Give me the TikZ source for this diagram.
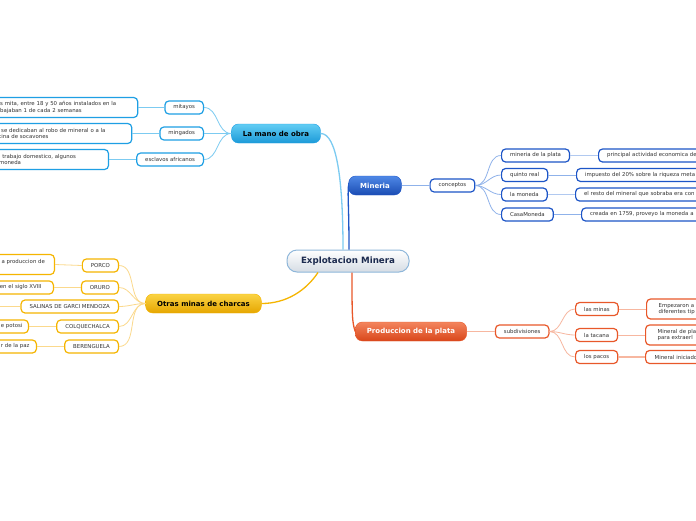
\documentclass[tikz,border=0pt]{standalone}
\usepackage{fontspec}
\setmainfont{DejaVu Sans}
\usetikzlibrary{positioning}

\definecolor{rootline}{HTML}{8FB7DA}
\definecolor{rootbot}{HTML}{D5DCE4}
\definecolor{rootfg}{HTML}{1B2A4E}
\definecolor{leaffg}{HTML}{333333}
\definecolor{manotop}{HTML}{62CDF4}
\definecolor{manobot}{HTML}{1C9AD8}
\definecolor{manobrd}{HTML}{1E9FE4}
\definecolor{manoln}{HTML}{7CCBF1}
\definecolor{minetop}{HTML}{4F88E6}
\definecolor{minebot}{HTML}{1A4CB3}
\definecolor{minebrd}{HTML}{1D55C7}
\definecolor{mineln}{HTML}{8FB2EA}
\definecolor{otrtop}{HTML}{FAD344}
\definecolor{otrbot}{HTML}{E6A600}
\definecolor{otrbrd}{HTML}{F5B500}
\definecolor{otrln}{HTML}{FBD98C}
\definecolor{protop}{HTML}{F3855E}
\definecolor{probot}{HTML}{D9461A}
\definecolor{probrd}{HTML}{E8582A}
\definecolor{proln}{HTML}{F7B7A0}

\begin{document}
\begin{tikzpicture}[x=1pt, y=1pt,
    root/.style={draw=rootline, line width=1pt, rounded corners=10pt, top color=white,
      bottom color=rootbot, text=rootfg, font=\bfseries\fontsize{8.7}{10}\selectfont,
      minimum width=122pt, minimum height=22pt},
    topic/.style={rounded corners=7pt, minimum height=19pt, inner xsep=11.5pt,
      font=\bfseries\fontsize{7}{8}\selectfont},
    mano/.style={topic, draw=manobrd, top color=manotop, bottom color=manobot, text=black},
    mine/.style={topic, draw=minebrd, top color=minetop, bottom color=minebot, text=white},
    otras/.style={topic, draw=otrbrd, top color=otrtop, bottom color=otrbot, text=black},
    prod/.style={topic, draw=probrd, top color=protop, bottom color=probot, text=white},
    leaf/.style={draw=#1, fill=white, line width=1.2pt, rounded corners=4pt,
      minimum height=13pt, inner xsep=8.5pt, inner ysep=1pt, text=leaffg,
      font=\fontsize{5.4}{6.8}\selectfont},
    note/.style={leaf=#1, align=left, minimum height=20pt},
    cut/.style={text width=#1, align=left},
    branch/.style={draw=#1, line width=1.3pt},
    fan/.style={draw=#1, line width=0.8pt},
    tie/.style={draw=#1, line width=1.4pt}
  ]
    \useasboundingbox (0,-520) rectangle (696,0);
    \fill[white] (0,-520) rectangle (696,0);
    \clip (0,-520) rectangle (696,0);

    % central topic and main branches
    \node[root] (expl) at (348,-261) {Explotacion Minera};
    \node[mano] (obra) at (276,-133.5) {La mano de obra};
    \node[mine] (mineria) at (375,-185.5) {Mineria};
    \node[otras] (charcas) at (203.5,-303.5) {Otras minas de charcas};
    \node[prod] (plata) at (411,-331.5) {Produccion de la plata};

    \draw[branch=manoln] ([xshift=-5pt]expl.north) .. controls +(0,70) and +(16,0) .. (obra.east);
    \draw[branch=minebrd] ([xshift=1pt]expl.north) .. controls +(0,45) and +(-1,-12) .. (mineria.west);
    \draw[branch=otrbrd] ([xshift=-30pt]expl.south) .. controls +(-12,-18) and +(25,0) .. (charcas.east);
    \draw[branch=probrd] ([xshift=4pt]expl.south) .. controls +(0,-45) and +(-3,10) .. (plata.west);

    % La mano de obra
    \node[leaf=manobrd, anchor=east] (mitayos) at (204,-107.5) {mitayos};
    \node[leaf=manobrd, anchor=east] (mingados) at (204,-133.5) {mingados};
    \node[leaf=manobrd, anchor=east] (esclavos) at (204,-159.5) {esclavos africanos};
    \node[note=manobrd, cut=129pt, left=26pt of mitayos] (mitanote) {s mita, entre 18 y 50 años instalados en la\\bajaban 1 de cada 2 semanas};
    \node[note=manobrd, cut=124pt, left=27pt of mingados] (mingnote) {\hspace{2pt}se dedicaban al robo de mineral o a la\\tina de socavones};
    \node[note=manobrd, cut=101pt, left=27pt of esclavos] (esclnote) {l trabajo domestico, algunos\\moneda};

    \draw[fan=manoln] (obra.west) to[out=180, in=0] (mitayos.east);
    \draw[fan=manoln] (obra.west) to[out=180, in=0] (mingados.east);
    \draw[fan=manoln] (obra.west) to[out=180, in=0] (esclavos.east);
    \draw[fan=manoln] (mitayos.west) -- (mitanote.east);
    \draw[fan=manoln] (mingados.west) -- (mingnote.east);
    \draw[fan=manoln] (esclavos.west) -- (esclnote.east);

    % Mineria
    \node[leaf=minebrd, right=28pt of mineria] (conceptos) {conceptos};
    \node[leaf=minebrd, anchor=west] (minplata) at (501,-155.5) {mineria de la plata};
    \node[leaf=minebrd, anchor=west] (quinto) at (501,-175) {quinto real};
    \node[leaf=minebrd, anchor=west] (moneda) at (501,-194.5) {la moneda};
    \node[leaf=minebrd, anchor=west] (casa) at (501,-214.5) {CasaMoneda};
    \node[leaf=minebrd, cut=140pt, anchor=west] (minnote) at (598,-155.5) {principal actividad economica de};
    \node[leaf=minebrd, cut=140pt, anchor=west] (quinnote) at (576,-175) {impuesto del 20\% sobre la riqueza meta};
    \node[leaf=minebrd, cut=140pt, anchor=west] (monnote) at (575,-194.5) {el resto del mineral que sobraba era con};
    \node[leaf=minebrd, cut=140pt, anchor=west] (casanote) at (581,-214.5) {creada en 1759, proveyo la moneda a};

    \draw[fan=mineln] (mineria.east) -- (conceptos.west);
    \draw[fan=mineln] (conceptos.east) to[out=0, in=180] (minplata.west);
    \draw[fan=mineln] (conceptos.east) to[out=0, in=180] (quinto.west);
    \draw[fan=mineln] (conceptos.east) to[out=0, in=180] (moneda.west);
    \draw[fan=mineln] (conceptos.east) to[out=0, in=180] (casa.west);
    \draw[tie=mineln!70] (minplata.east) -- (minnote.west);
    \draw[fan=mineln] (quinto.east) -- (quinnote.west);
    \draw[tie=mineln!70] (moneda.east) -- (monnote.west);
    \draw[fan=mineln] (casa.east) -- (casanote.west);

    % Otras minas de charcas
    \node[leaf=otrbrd, anchor=east] (porco) at (119,-265.5) {PORCO};
    \node[leaf=otrbrd, anchor=east] (oruro) at (119,-287.5) {ORURO};
    \node[leaf=otrbrd, anchor=east] (salinas) at (119,-306.5) {SALINAS DE GARCI MENDOZA};
    \node[leaf=otrbrd, anchor=east] (colque) at (119,-326.5) {COLQUECHALCA};
    \node[leaf=otrbrd, anchor=east] (beren) at (119,-346.5) {BERENGUELA};
    \node[note=otrbrd, inner xsep=9.5pt, anchor=east] (porconote) at (55,-264.5) {a produccion de\\\mbox{}};
    \node[leaf=otrbrd, cut=45pt, anchor=east] (oruronote) at (54,-287.5) {en el siglo XVIII};
    \coordinate (salinasnote) at (-5,-306.5);
    \node[leaf=otrbrd, inner xsep=6pt, anchor=east] (colqnote) at (29,-326.5) {e potosi};
    \node[leaf=otrbrd, inner xsep=7pt, anchor=east] (berennote) at (37,-346.5) {r de la paz};

    \draw[fan=otrln] (charcas.west) to[out=180, in=0] (porco.east);
    \draw[fan=otrln] (charcas.west) to[out=180, in=0] (oruro.east);
    \draw[fan=otrln] (charcas.west) to[out=180, in=0] (salinas.east);
    \draw[fan=otrln] (charcas.west) to[out=180, in=0] (colque.east);
    \draw[fan=otrln] (charcas.west) to[out=180, in=0] (beren.east);
    \draw[fan=otrln] (porco.west) -- (porconote.east);
    \draw[fan=otrln] (oruro.west) -- (oruronote.east);
    \draw[fan=otrln] (salinas.west) -- (salinasnote);
    \draw[tie=otrln] (colque.west) -- (colqnote.east);
    \draw[tie=otrln] (beren.west) -- (berennote.east);

    % Produccion de la plata
    \node[leaf=probrd, right=28pt of plata] (subdiv) {subdivisiones};
    \node[leaf=probrd, anchor=west] (minas) at (575,-309) {las minas};
    \node[leaf=probrd, anchor=west] (tacana) at (575,-335) {la tacana};
    \node[leaf=probrd, anchor=west] (pacos) at (575,-357) {los pacos};
    \node[note=probrd, cut=120pt, inner xsep=12pt, anchor=west] (minasnote) at (646,-309) {Empezaron a\\diferentes tip};
    \node[note=probrd, cut=120pt, inner xsep=12pt, anchor=west] (tacnote) at (645,-335) {Mineral de pla\\para extraerl};
    \node[leaf=probrd, cut=120pt, inner xsep=9pt, anchor=west] (pacnote) at (645,-357) {Mineral iniciado};

    \draw[tie=proln] (plata.east) -- (subdiv.west);
    \draw[fan=proln] (subdiv.east) to[out=0, in=180] (minas.west);
    \draw[fan=proln] (subdiv.east) to[out=0, in=180] (tacana.west);
    \draw[fan=proln] (subdiv.east) to[out=0, in=180] (pacos.west);
    \draw[fan=proln] (minas.east) -- (minasnote.west);
    \draw[fan=proln] (tacana.east) -- (tacnote.west);
    \draw[tie=proln] (pacos.east) -- (pacnote.west);
  \end{tikzpicture}
\end{document}
